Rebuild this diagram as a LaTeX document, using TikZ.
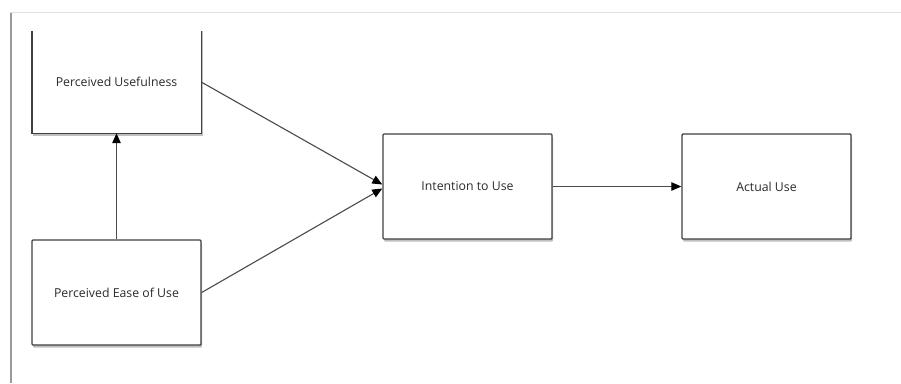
\documentclass[tikz,border=0pt]{standalone}
\usepackage{fontspec}
\setmainfont{Open Sans}
\usetikzlibrary{arrows.meta,shadows}
\definecolor{boxline}{HTML}{404040}
\definecolor{conn}{HTML}{4A4A4A}
\definecolor{txt}{HTML}{2A2A2A}
\tikzset{
  box/.style={draw=boxline, line width=1.4pt, rounded corners=1pt, fill=white,
    minimum width=169pt, minimum height=105pt, inner sep=0pt,
    font=\fontsize{12.3}{14}\selectfont, text=txt,
    drop shadow={shadow xshift=1pt, shadow yshift=-2.5pt, fill=black, opacity=0.25}},
  openbox/.style={draw=none, fill=none, minimum width=169pt, minimum height=102pt,
    inner sep=0pt, font=\fontsize{12.3}{14}\selectfont, text=txt},
  conline/.style={draw=conn, line width=1.1pt},
  tip/.style={-{Triangle[length=10pt,width=8.5pt,color=black]}}
}
\begin{document}
\begin{tikzpicture}[x=1pt,y=-1pt]
\useasboundingbox (0,0) rectangle (901,383);
\fill[white] (0,0) rectangle (901,383);
% outer frame
\draw[line width=1pt, draw=black!12] (10,12.5) -- (901,12.5);
\draw[line width=1.3pt, draw=black!40] (11,12.5) -- (11,383);
% boxes
\fill[black, opacity=0.25] (33,31) rectangle (202.5,135.5);
\fill[white] (32,31) rectangle (201,133);
\node[openbox] (PU) at (116.5,82) {Perceived Usefulness};
\draw[draw=boxline, line width=1.4pt] (PU.north west) -- (PU.south west) -- (PU.south east) -- (PU.north east);
\node[box] (PE) at (116.5,292.5) {Perceived Ease of Use};
\node[box] (IT) at (467.5,186.5) {Intention to Use};
\node[box] (AU) at (766.5,186.5) {Actual Use};
% connectors
\draw[conline, tip] (PE.north) -- (PU.south);
\draw[conline, tip] (PU.east) -- ([yshift=2pt]IT.west);
\draw[conline, tip] (PE.east) -- ([yshift=-2pt]IT.west);
\draw[conline, tip] (IT.east) -- (AU.west);
\end{tikzpicture}
\end{document}
